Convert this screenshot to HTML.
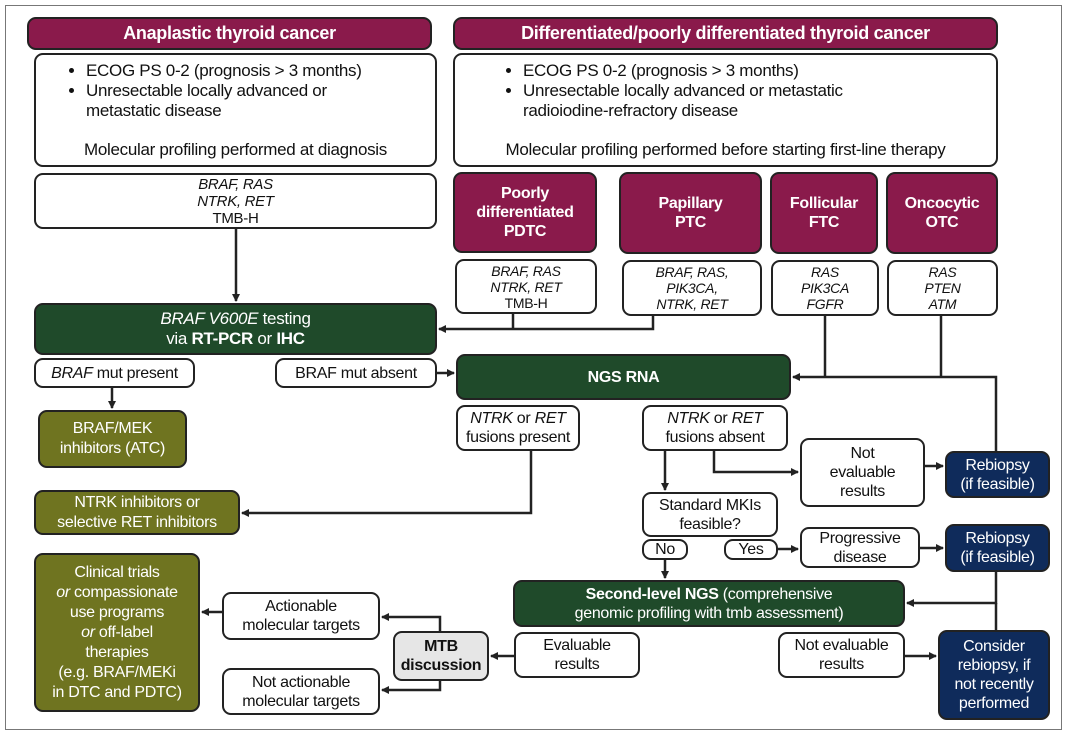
<!DOCTYPE html>
<html><head><meta charset="utf-8"><style>
body{margin:0;width:1080px;height:735px;background:#fff;position:relative;overflow:hidden;font-family:"Liberation Sans",sans-serif;color:#111}
.b{position:absolute;box-sizing:border-box;border:2px solid #222;border-radius:9px;background:#fff;display:flex;align-items:center;justify-content:center;text-align:center;font-size:16px;line-height:19px;letter-spacing:-0.3px}
.m{background:#8A1A4B;color:#fff;font-weight:bold}
.g{background:#1F4A2A;color:#fff}
.o{background:#6F7420;color:#fff}
.n{background:#0F2B5B;color:#fff}
i{font-style:italic}
ul{margin:0;padding-left:22px;text-align:left}
svg{position:absolute;left:0;top:0}
</style></head><body>
<div style="position:absolute;left:5px;top:5px;width:1057px;height:725px;border:1.5px solid #777;box-sizing:border-box"></div>
<svg width="1080" height="735">
<defs><marker id="a" markerWidth="8" markerHeight="8" refX="7" refY="4" orient="auto" markerUnits="userSpaceOnUse"><path d="M0,0L8,4L0,8z" fill="#222"/></marker></defs>
<g stroke="#222" stroke-width="2.5" fill="none">
<path d="M236,229V301" marker-end="url(#a)"/>
<path d="M513,314V329M653,316V329H439" marker-end="url(#a)"/>
<path d="M437,373H454" marker-end="url(#a)"/>
<path d="M112,388V408" marker-end="url(#a)"/>
<path d="M825,316V377M941,316V377M996,451V377H793" marker-end="url(#a)"/>
<path d="M531,451V513H242" marker-end="url(#a)"/>
<path d="M665,451V490" marker-end="url(#a)"/>
<path d="M714,451V472H798" marker-end="url(#a)"/>
<path d="M925,466H943" marker-end="url(#a)"/>
<path d="M778,549H798" marker-end="url(#a)"/>
<path d="M920,548H943" marker-end="url(#a)"/>
<path d="M665,559V578" marker-end="url(#a)"/>
<path d="M996,572V603H907" marker-end="url(#a)"/>
<path d="M996,603V630"/>
<path d="M905,656H936" marker-end="url(#a)"/>
<path d="M514,656H491" marker-end="url(#a)"/>
<path d="M440,631V617H382" marker-end="url(#a)"/>
<path d="M440,681V690H382" marker-end="url(#a)"/>
<path d="M222,612H202" marker-end="url(#a)"/>
</g></svg>
<div class="b m" style="left:27px;top:17px;width:405px;height:33px;font-size:18px">Anaplastic thyroid cancer</div>
<div class="b m" style="left:453px;top:17px;width:545px;height:33px;font-size:18px">Differentiated/poorly differentiated thyroid cancer</div>
<div class="b" style="left:34px;top:53px;width:403px;height:114px;display:block;text-align:left;font-size:17px;line-height:20px;padding:6px 10px">
<ul style="padding-left:40px;width:300px"><li>ECOG PS 0-2 (prognosis &gt; 3 months)</li><li>Unresectable locally advanced or metastatic disease</li></ul>
<div style="text-align:center;margin-top:19px">Molecular profiling performed at diagnosis</div></div>
<div class="b" style="left:453px;top:53px;width:545px;height:114px;display:block;text-align:left;font-size:17px;line-height:20px;padding:6px 10px">
<ul style="padding-left:58px;width:400px"><li>ECOG PS 0-2 (prognosis &gt; 3 months)</li><li>Unresectable locally advanced or metastatic radioiodine-refractory disease</li></ul>
<div style="text-align:center;margin-top:19px">Molecular profiling performed before starting first-line therapy</div></div>
<div class="b" style="left:34px;top:173px;width:403px;height:56px;line-height:17px;font-size:15px"><div><i>BRAF, RAS<br>NTRK, RET</i><br>TMB-H</div></div>
<div class="b m" style="left:453px;top:172px;width:144px;height:81px;font-size:16px">Poorly<br>differentiated<br>PDTC</div>
<div class="b m" style="left:619px;top:172px;width:143px;height:82px;font-size:16px">Papillary<br>PTC</div>
<div class="b m" style="left:770px;top:172px;width:108px;height:82px;font-size:16px">Follicular<br>FTC</div>
<div class="b m" style="left:886px;top:172px;width:112px;height:82px;font-size:16px">Oncocytic<br>OTC</div>
<div class="b" style="left:455px;top:259px;width:142px;height:55px;font-size:14px;line-height:16px"><div><i>BRAF, RAS<br>NTRK, RET</i><br>TMB-H</div></div>
<div class="b" style="left:622px;top:260px;width:140px;height:56px;font-size:14px;line-height:16px"><i>BRAF, RAS,<br>PIK3CA,<br>NTRK, RET</i></div>
<div class="b" style="left:771px;top:260px;width:108px;height:56px;font-size:14px;line-height:16px"><i>RAS<br>PIK3CA<br>FGFR</i></div>
<div class="b" style="left:887px;top:260px;width:111px;height:56px;font-size:14px;line-height:16px"><i>RAS<br>PTEN<br>ATM</i></div>
<div class="b g" style="left:34px;top:303px;width:403px;height:52px;font-size:17px;line-height:20px"><div><i>BRAF V600E</i> testing<br>via <b>RT-PCR</b> or <b>IHC</b></div></div>
<div class="b" style="left:34px;top:358px;width:161px;height:30px;font-size:16px"><span><i>BRAF</i> mut present</span></div>
<div class="b" style="left:275px;top:358px;width:162px;height:30px;font-size:16px">BRAF mut absent</div>
<div class="b o" style="left:38px;top:410px;width:149px;height:58px;font-size:16px;line-height:20px">BRAF/MEK<br>inhibitors (ATC)</div>
<div class="b g" style="left:456px;top:354px;width:335px;height:46px;font-weight:bold;font-size:16px">NGS RNA</div>
<div class="b" style="left:456px;top:405px;width:124px;height:46px;font-size:16px;line-height:19px"><div><i>NTRK</i> or <i>RET</i><br>fusions present</div></div>
<div class="b" style="left:642px;top:405px;width:146px;height:46px;font-size:16px;line-height:19px"><div><i>NTRK</i> or <i>RET</i><br>fusions absent</div></div>
<div class="b" style="left:800px;top:438px;width:125px;height:69px;font-size:16px;line-height:19px">Not<br>evaluable<br>results</div>
<div class="b n" style="left:945px;top:451px;width:105px;height:47px;font-size:16px;line-height:19px">Rebiopsy<br>(if feasible)</div>
<div class="b o" style="left:34px;top:490px;width:206px;height:45px;font-size:16px;line-height:20px">NTRK inhibitors or<br>selective RET inhibitors</div>
<div class="b" style="left:642px;top:492px;width:136px;height:45px;font-size:16px;line-height:19px">Standard MKIs<br>feasible?</div>
<div class="b" style="left:642px;top:539px;width:46px;height:21px;font-size:16px">No</div>
<div class="b" style="left:724px;top:539px;width:54px;height:21px;font-size:16px">Yes</div>
<div class="b" style="left:800px;top:527px;width:120px;height:41px;font-size:16px;line-height:19px">Progressive<br>disease</div>
<div class="b n" style="left:945px;top:524px;width:105px;height:48px;font-size:16px;line-height:19px">Rebiopsy<br>(if feasible)</div>
<div class="b g" style="left:513px;top:580px;width:392px;height:47px;font-size:16px;line-height:19px"><div><b>Second-level NGS</b> (comprehensive<br>genomic profiling with tmb assessment)</div></div>
<div class="b o" style="left:34px;top:553px;width:166px;height:159px;font-size:16px;line-height:20px"><div>Clinical trials<br><i>or</i> compassionate<br>use programs<br><i>or</i> off-label<br>therapies<br>(e.g. BRAF/MEKi<br>in DTC and PDTC)</div></div>
<div class="b" style="left:222px;top:592px;width:158px;height:48px;font-size:16px;line-height:19px">Actionable<br>molecular targets</div>
<div class="b" style="left:222px;top:668px;width:158px;height:47px;font-size:16px;line-height:19px">Not actionable<br>molecular targets</div>
<div class="b" style="left:393px;top:631px;width:96px;height:50px;background:#e6e6e6;font-weight:bold;font-size:16px;line-height:19px">MTB<br>discussion</div>
<div class="b" style="left:514px;top:632px;width:126px;height:46px;font-size:16px;line-height:19px">Evaluable<br>results</div>
<div class="b" style="left:778px;top:632px;width:127px;height:46px;font-size:16px;line-height:19px">Not evaluable<br>results</div>
<div class="b n" style="left:938px;top:630px;width:112px;height:90px;font-size:16px;line-height:19px">Consider<br>rebiopsy, if<br>not recently<br>performed</div>
</body></html>
